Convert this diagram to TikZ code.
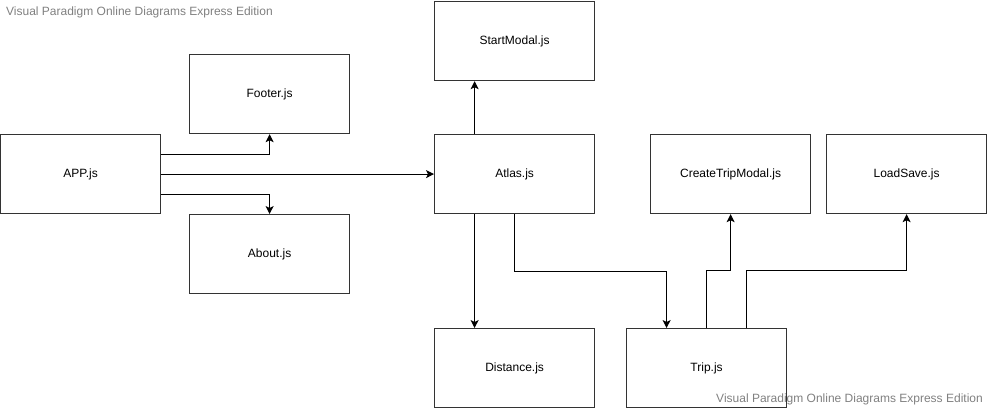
\documentclass[tikz,border=0pt]{standalone}
\usepackage{fontspec}
\setmainfont{Liberation Sans}
\usetikzlibrary{arrows.meta}
\begin{document}
\begin{tikzpicture}[x=1pt,y=-1pt,
  box/.style={draw=black!80,line width=1.2pt,minimum width=160pt,minimum height=79pt,inner sep=0pt,font=\fontsize{12}{14}\selectfont,anchor=north west},
  conn/.style={draw=black,line width=1pt,-{Stealth[length=8pt,width=8pt,inset=2pt]}},
  wm/.style={text=black!50,font=\fontsize{12}{14}\selectfont,inner sep=0pt}]
\useasboundingbox (0,0) rectangle (989,410);
\node[box] (app) at (0,134) {APP.js};
\node[box] (footer) at (189,54) {Footer.js};
\node[box] (about) at (189,214) {About.js};
\node[box] (start) at (434,1) {StartModal.js};
\node[box] (atlas) at (434,134) {Atlas.js};
\node[box] (dist) at (434,328) {Distance.js};
\node[box] (trip) at (626,328) {Trip.js};
\node[box] (ctm) at (650,134) {CreateTripModal.js};
\node[box] (ls) at (826,134) {LoadSave.js};
\node[wm,anchor=west] (wm1) at (6,12) {Visual Paradigm Online Diagrams Express Edition};
\node[wm,anchor=east] (wm2) at (983,399) {Visual Paradigm Online Diagrams Express Edition};
\draw[conn] ([yshift=20pt]app.east) -| (footer.south);
\draw[conn] (app.east) -- (atlas.west);
\draw[conn] ([yshift=-20pt]app.east) -| (about.north);
\draw[conn] ([xshift=-40pt]atlas.north) -- ([xshift=-40pt]start.south);
\draw[conn] ([xshift=-40pt]atlas.south) -- ([xshift=-40pt]dist.north);
\draw[conn] (atlas.south) -- ++(0,57) -| ([xshift=-40pt]trip.north);
\draw[conn] (trip.north) -- ++(0,-58) -| (ctm.south);
\draw[conn] ([xshift=40pt]trip.north) -- ++(0,-58) -| (ls.south);
\end{tikzpicture}
\end{document}
